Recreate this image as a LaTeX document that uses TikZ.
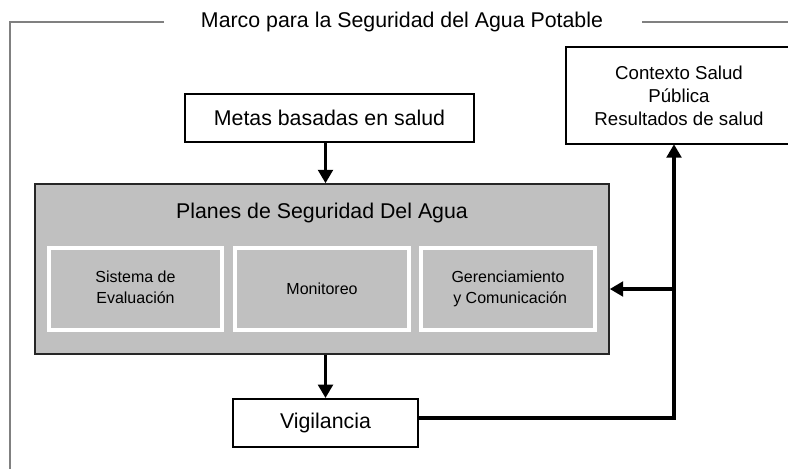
\documentclass[tikz,border=0pt]{standalone}
\usepackage{fontspec}
\setmainfont{Liberation Sans}
\usetikzlibrary{arrows.meta}
\definecolor{psagray}{RGB}{192,192,192}
\definecolor{framegray}{RGB}{128,128,128}
\tikzset{
  whitebox/.style={draw=black, line width=1.5pt, fill=white, inner sep=0pt, align=center},
  innerbox/.style={draw=white, line width=3pt, fill=psagray, inner sep=0pt, align=center, font=\fontsize{12pt}{16pt}\selectfont},
  conn/.style={line width=2.3pt, -{Triangle[length=10pt,width=11pt]}},
  framel/.style={draw=framegray, line width=1.2pt}
}
\begin{document}
\begin{tikzpicture}[x=0.75pt,y=-0.75pt]
\useasboundingbox (0,0) rectangle (788,468);
% frame
\draw[framel] (164,22) -- (10,22) -- (10,470);
\draw[framel] (642,22) -- (788,22);
\node[anchor=base, font=\fontsize{16pt}{19pt}\selectfont, inner sep=0pt] (title) at (402,27) {Marco para la Seguridad del Agua Potable};
% boxes
\node[whitebox, minimum width=289*0.75pt, minimum height=48*0.75pt, font=\fontsize{16pt}{19pt}\selectfont] (metas) at (329.5,118) {Metas basadas en salud};
\node[inner sep=0pt, align=center, minimum width=226*0.75pt, minimum height=97*0.75pt, font=\fontsize{14pt}{17.25pt}\selectfont] (ctx) at (679,95.5) {Contexto Salud\\Pública\\Resultados de salud};
\draw[line width=1.5pt] (ctx.north -| 788,0) -- (ctx.north west) -- (ctx.south west) -- (ctx.south -| 788,0);
\node[draw=black!85, line width=1.2pt, fill=psagray, minimum width=574*0.75pt, minimum height=170*0.75pt, inner sep=0pt] (psa) at (322,269) {};
\node[font=\fontsize{16pt}{19pt}\selectfont, inner sep=0pt] (psat) at (322,213) {Planes de Seguridad Del Agua};
\node[innerbox, minimum width=173*0.75pt, minimum height=82*0.75pt] (sis) at (135.5,289) {\raisebox{-6pt}{\begin{tabular}{@{}c@{}}Sistema de\\Evaluación\end{tabular}}};
\node[innerbox, minimum width=174*0.75pt, minimum height=82*0.75pt] (mon) at (322,289) {Monitoreo};
\node[innerbox, minimum width=174*0.75pt, minimum height=82*0.75pt] (ger) at (508,289) {\raisebox{3pt}{\begin{tabular}{@{}c@{}}Gerenciamiento\\\ y Comunicación\end{tabular}}};
\node[whitebox, minimum width=185*0.75pt, minimum height=48*0.75pt, font=\fontsize{16pt}{19pt}\selectfont] (vig) at (325.5,423) {Vigilancia};
% connectors
\coordinate (c1) at (674,418);
\coordinate (c2) at (674,289);
\draw[conn] (metas.south -| vig.north) -- (psa.north -| vig.north);
\draw[conn] (psa.south -| vig.north) -- (vig.north);
\draw[conn] (vig.east |- c1) -- (c1) -- (ctx.south -| c1);
\draw[conn] (c2) -- (psa.east |- c2);
\end{tikzpicture}
\end{document}
